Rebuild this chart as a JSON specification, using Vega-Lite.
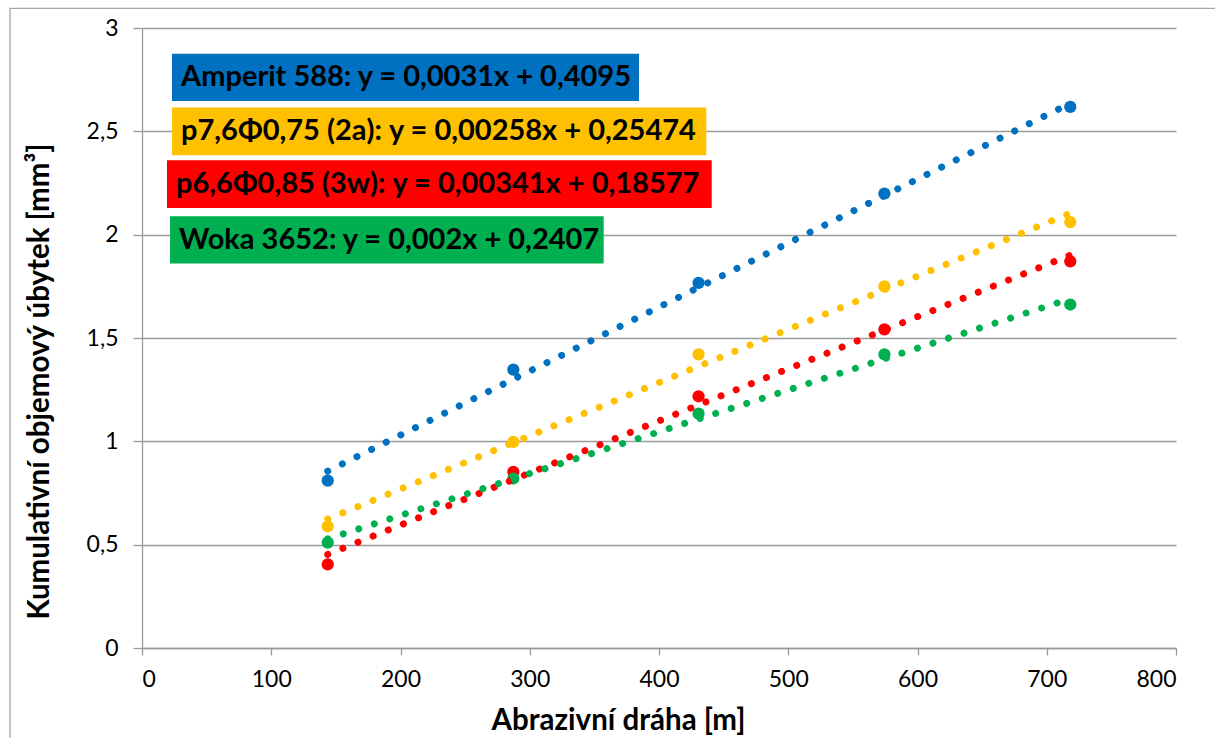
{
  "$schema": "https://vega.github.io/schema/vega-lite/v6.json",
  "width": 1034,
  "height": 620,
  "autosize": {"type": "none"},
  "padding": {"left": 142, "top": 28, "right": 39, "bottom": 90},
  "background": "white",
  "config": {
    "view": {"stroke": null},
    "font": "Lato",
    "axis": {
      "labelFont": "Lato",
      "labelFontSize": 23,
      "labelColor": "#000000",
      "titleFont": "Lato",
      "titleFontSize": 29.5,
      "titleFontWeight": "bold",
      "titleColor": "#000000",
      "domainColor": "#9a9a9a",
      "domainWidth": 1.3,
      "tickColor": "#9a9a9a",
      "tickWidth": 1.3,
      "gridColor": "#9a9a9a",
      "gridWidth": 1.3
    }
  },
  "datasets": {
    "frame": [{"x1": -102.1, "x2": 842, "y1": -0.55, "y2": 3.095}],
    "points": [
      {"series": "Amperit 588", "x": 143.7, "y": 0.81},
      {"series": "Amperit 588", "x": 287.3, "y": 1.347},
      {"series": "Amperit 588", "x": 430.6, "y": 1.767},
      {"series": "Amperit 588", "x": 574.4, "y": 2.199},
      {"series": "Amperit 588", "x": 718.2, "y": 2.618},
      {"series": "p7,6Φ0,75 (2a)", "x": 143.7, "y": 0.589},
      {"series": "p7,6Φ0,75 (2a)", "x": 287.3, "y": 0.997},
      {"series": "p7,6Φ0,75 (2a)", "x": 430.6, "y": 1.421},
      {"series": "p7,6Φ0,75 (2a)", "x": 574.4, "y": 1.75},
      {"series": "p7,6Φ0,75 (2a)", "x": 718.2, "y": 2.061},
      {"series": "p6,6Φ0,85 (3w)", "x": 143.7, "y": 0.405},
      {"series": "p6,6Φ0,85 (3w)", "x": 287.3, "y": 0.852},
      {"series": "p6,6Φ0,85 (3w)", "x": 430.6, "y": 1.218},
      {"series": "p6,6Φ0,85 (3w)", "x": 574.4, "y": 1.542},
      {"series": "p6,6Φ0,85 (3w)", "x": 718.2, "y": 1.871},
      {"series": "Woka 3652", "x": 143.7, "y": 0.51},
      {"series": "Woka 3652", "x": 287.3, "y": 0.82},
      {"series": "Woka 3652", "x": 430.6, "y": 1.134},
      {"series": "Woka 3652", "x": 574.4, "y": 1.421},
      {"series": "Woka 3652", "x": 718.2, "y": 1.662}
    ],
    "trend": [
      {"series": "Amperit 588", "x": 143.7, "y": 0.856},
      {"series": "Amperit 588", "x": 718.2, "y": 2.635},
      {"series": "p7,6Φ0,75 (2a)", "x": 143.7, "y": 0.624},
      {"series": "p7,6Φ0,75 (2a)", "x": 718.2, "y": 2.104},
      {"series": "p6,6Φ0,85 (3w)", "x": 143.7, "y": 0.453},
      {"series": "p6,6Φ0,85 (3w)", "x": 718.2, "y": 1.901},
      {"series": "Woka 3652", "x": 143.7, "y": 0.528},
      {"series": "Woka 3652", "x": 718.2, "y": 1.69}
    ],
    "labels": [
      {"series": "Amperit 588", "label": "Amperit 588: y = 0,0031x + 0,4095", "x1": 23.2, "x2": 384.5, "y1": 2.647, "y2": 2.876, "tx": 30.2, "ty": 2.762},
      {"series": "p7,6Φ0,75 (2a)", "label": "p7,6Φ0,75 (2a): y = 0,00258x + 0,25474", "x1": 23.2, "x2": 436.6, "y1": 2.384, "y2": 2.615, "tx": 30.2, "ty": 2.5},
      {"series": "p6,6Φ0,85 (3w)", "label": "p6,6Φ0,85 (3w): y = 0,00341x + 0,18577", "x1": 19.3, "x2": 440.8, "y1": 2.129, "y2": 2.36, "tx": 26.3, "ty": 2.245},
      {"series": "Woka 3652", "label": "Woka 3652: y = 0,002x + 0,2407", "x1": 21.7, "x2": 357.2, "y1": 1.861, "y2": 2.089, "tx": 28.6, "ty": 1.975}
    ]
  },
  "layer": [
    {
      "data": {"name": "frame"},
      "mark": {"type": "rect", "fill": null, "stroke": "#a6a6a6", "strokeWidth": 1.3, "clip": false},
      "encoding": {
        "x": {"field": "x1", "type": "quantitative", "scale": {"domain": [0, 800], "nice": false, "zero": false},
          "axis": {"values": [0, 100, 200, 300, 400, 500, 600, 700, 800], "grid": false, "tickSize": 7, "labelPadding": 13, "title": "Abrazivní dráha [m]", "titleX": 476, "titleY": 72, "titleBaseline": "middle", "titleAnchor": null, "titleAlign": "center"}},
        "x2": {"field": "x2"},
        "y": {"field": "y1", "type": "quantitative", "scale": {"domain": [0, 3], "nice": false, "zero": false},
          "axis": {"values": [0, 0.5, 1, 1.5, 2, 2.5, 3], "format": ".1~f", "grid": true, "tickSize": 9, "labelPadding": 15, "labelExpr": "replace(datum.label, '.', ',')", "title": "Kumulativní objemový úbytek [mm³]", "titleX": -103, "titleY": 353, "titleAngle": 270, "titleBaseline": "middle", "titleAlign": "center", "titleAnchor": null}},
        "y2": {"field": "y2"}
      }
    },
    {
      "data": {"name": "labels"},
      "mark": {"type": "rect"},
      "encoding": {
        "x": {"field": "x1", "type": "quantitative"},
        "x2": {"field": "x2"},
        "y": {"field": "y1", "type": "quantitative"},
        "y2": {"field": "y2"},
        "color": {"field": "series", "type": "nominal", "legend": null,
          "scale": {"domain": ["Amperit 588", "p7,6Φ0,75 (2a)", "p6,6Φ0,85 (3w)", "Woka 3652"], "range": ["#0070C0", "#FFC000", "#FF0000", "#00B050"]}}
      }
    },
    {
      "data": {"name": "labels"},
      "mark": {"type": "text", "align": "left", "baseline": "middle", "font": "Lato", "fontWeight": "bold", "fontSize": 29, "color": "#000000"},
      "encoding": {
        "x": {"field": "tx", "type": "quantitative"},
        "y": {"field": "ty", "type": "quantitative"},
        "text": {"field": "label"}
      }
    },
    {
      "data": {"name": "points"},
      "mark": {"type": "circle", "size": 150, "opacity": 1},
      "encoding": {
        "x": {"field": "x", "type": "quantitative"},
        "y": {"field": "y", "type": "quantitative"},
        "color": {"field": "series", "type": "nominal", "legend": null}
      }
    },
    {
      "data": {"name": "trend"},
      "mark": {"type": "line", "strokeWidth": 7, "strokeCap": "round", "strokeDash": [0.01, 16.3]},
      "encoding": {
        "x": {"field": "x", "type": "quantitative"},
        "y": {"field": "y", "type": "quantitative"},
        "color": {"field": "series", "type": "nominal", "legend": null},
        "detail": {"field": "series"}
      }
    }
  ]
}
